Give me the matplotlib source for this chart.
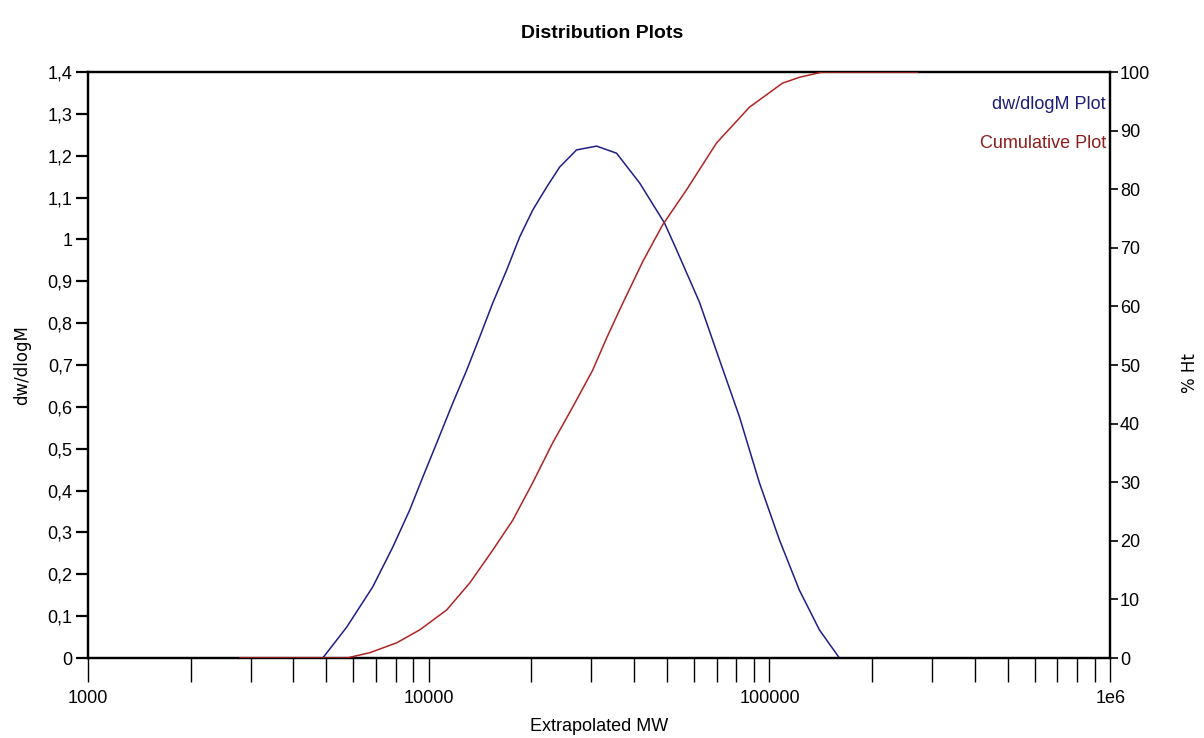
import numpy as np
import matplotlib.pyplot as plt
from matplotlib.ticker import FixedLocator, FuncFormatter

plt.rcParams['font.family'] = ['Liberation Sans', 'DejaVu Sans']

# dw/dlogM curve
mw_dw = [2790, 4887, 5747, 6850, 7843, 8797, 9604, 10556, 11763, 12928, 14112,
         15408, 16934, 18489, 20184, 22182, 24224, 27164, 31096, 35588, 41576,
         49213, 53382, 62313, 71360, 81658, 93476, 106983, 122406, 140186,
         160437, 271650]
dw = [0, 0, 0.074, 0.170, 0.265, 0.354, 0.432, 0.514, 0.609, 0.688, 0.767,
      0.848, 0.927, 1.006, 1.070, 1.125, 1.173, 1.214, 1.223, 1.206, 1.135,
      1.039, 0.975, 0.850, 0.712, 0.576, 0.418, 0.282, 0.162, 0.067,
      0, 0]

# cumulative curve, % Ht
mw_cum = [2790, 5747, 6714, 8058, 9410, 11290, 13191, 15408, 17636, 20184,
          23099, 26441, 30266, 33266, 36317, 42425, 48556, 57104, 69936,
          87357, 109170, 122406, 143018, 271650]
cum = [0, 0, 0.9, 2.6, 4.8, 8.2, 12.8, 18.4, 23.5, 29.9,
       36.7, 42.8, 49.1, 54.6, 59.4, 67.6, 73.9, 79.9, 87.9,
       94.0, 98.1, 99.1, 100, 100]

left_ticks = [0, 0.1, 0.2, 0.3, 0.4, 0.5, 0.6, 0.7, 0.8, 0.9, 1.0, 1.1, 1.2, 1.3, 1.4]
right_ticks = list(range(0, 101, 10))
x_major = [1000, 10000, 100000, 1000000]
x_labels = ['1000', '10000', '100000', '1e6']

blue = '#1e1e8a'
red = '#b02424'

fig = plt.figure(figsize=(12.04, 7.38), dpi=100)
ax = fig.add_axes([0.0731, 0.1084, 0.849, 0.794])
ax2 = ax.twinx()

ax.plot(mw_dw, dw, color=blue, lw=1.1, zorder=3)
ax2.plot(mw_cum, cum, color=red, lw=1.1, zorder=4)

ax.set_xscale('log')
ax.set_xlim(1000, 1e6)
ax.set_ylim(0, 1.4)
ax2.set_ylim(0, 100)

minor = [m * d for d in (1000, 10000, 100000) for m in range(2, 10)]
ax.xaxis.set_major_locator(FixedLocator(x_major))
ax.xaxis.set_minor_locator(FixedLocator(minor))
ax.set_xticklabels(x_labels)
ax.xaxis.set_minor_formatter(FuncFormatter(lambda v, p: ''))
ax.tick_params(axis='x', which='both', direction='out', length=17, width=1.0,
               labelsize=13, pad=6)

ax.set_yticks(left_ticks)
ax.yaxis.set_major_formatter(FuncFormatter(lambda v, p: ('%g' % round(v, 1)).replace('.', ',')))
ax.tick_params(axis='y', direction='out', length=9, width=1.6, labelsize=13, pad=2)

ax2.set_yticks(right_ticks)
ax2.tick_params(axis='y', direction='out', length=6, width=1.2, labelsize=13, pad=1)

for a in (ax, ax2):
    for s in a.spines.values():
        s.set_linewidth(1.6)
        s.set_color('black')

ax.set_xlabel('Extrapolated MW', fontsize=13, labelpad=8)
fig.text(22 / 1204, 1 - 365 / 738, 'dw/dlogM', rotation=90, fontsize=12,
         ha='center', va='center', family=['DejaVu Sans'])
fig.text(1190 / 1204, 1 - 373 / 738, '% Ht', rotation=90, fontsize=12,
         ha='center', va='center', family=['DejaVu Sans'])
fig.suptitle('Distribution Plots', fontsize=14, fontweight='bold', y=0.966)

ax.text(0.996, 0.945, 'dw/dlogM Plot', color='#1c1c78', fontsize=13,
        ha='right', va='center', transform=ax.transAxes)
ax.text(0.996, 0.878, 'Cumulative Plot', color='#8e1c1c', fontsize=13,
        ha='right', va='center', transform=ax.transAxes)

fig.savefig('out.png', dpi=100)
